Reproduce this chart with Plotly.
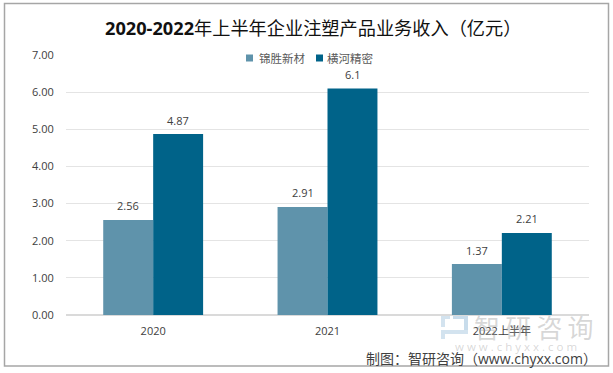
import plotly.graph_objects as go

categories = ["2020", "2021", "2022上半年"]
series_names = ["锦胜新材", "横河精密"]
jinsheng = [2.56, 2.91, 1.37]
hengtong = [4.87, 6.1, 2.21]
jinsheng_labels = ["2.56", "2.91", "1.37"]
hengtong_labels = ["4.87", "6.1", "2.21"]
tick_vals = [0, 1, 2, 3, 4, 5, 6, 7]
C1, C2 = "#5F93AB", "#006389"
W, H = 613, 373
L, R, T, B = 66, 589, 55, 315
SANS = "Noto Sans CJK SC"
LATIN = "Open Sans, Noto Sans CJK SC"


def px(x):
    return (x - L) / (R - L)


def py(y):
    return (B - y) / (B - T)


def note(text, x, y, size, color, xanchor="center", family=LATIN):
    return dict(text=text, x=px(x), y=py(y), xref="paper", yref="paper", showarrow=False,
                xanchor=xanchor, yanchor="middle", font=dict(size=size, color=color, family=family))


def box(x0, y0, x1, y1, color):
    return dict(type="rect", xref="paper", yref="paper", x0=px(x0), x1=px(x1), y0=py(y0), y1=py(y1),
                line=dict(width=0), fillcolor=color, layer="below")


fig = go.Figure()
fig.add_bar(name=series_names[0], x=categories, y=jinsheng, marker_color=C1, marker_line_width=0, showlegend=False)
fig.add_bar(name=series_names[1], x=categories, y=hengtong, marker_color=C2, marker_line_width=0, showlegend=False)

shapes = [
    dict(type="rect", xref="paper", yref="paper", x0=px(4.5), x1=px(608.5), y0=py(3.5), y1=py(366),
         line=dict(color="#A6A6A6", width=1.5), fillcolor="rgba(0,0,0,0)", layer="below"),
    box(246, 54.5, 253, 61.5, C1),
    box(316, 54.5, 323, 61.5, C2),
    box(441, 315, 450, 319, "#D3E3EF"),
    box(441, 319, 445, 327, "#D3E3EF"),
    box(453, 315, 468, 319, "#C8DCEB"),
    box(464, 319, 468, 330, "#C8DCEB"),
    box(441, 330, 468, 334, "#D3E3EF"),
    box(441, 334, 445, 339, "#D3E3EF"),
]
annotations = [
    note("<b>2020-2022</b>年上半年企业注塑产品业务收入（亿元）", 313, 28, 18.2, "#111111"),
    note("智\u2009研\u2009咨\u2009询", 534, 326, 26, "rgba(150,150,150,0.38)", family=SANS),
    note("w w w . c h y x x . c o m", 516, 346, 11.5, "rgba(150,150,150,0.38)"),
    note("制图：智研咨询（www.chyxx.com）", 599, 358, 14, "#404040", xanchor="right"),
    note(series_names[0], 257, 58, 11.5, "#595959", xanchor="left", family=SANS),
    note(series_names[1], 325, 58, 11.5, "#595959", xanchor="left", family=SANS),
]
for i, (value, label) in enumerate(zip(jinsheng, jinsheng_labels)):
    annotations.append(dict(x=i, y=value, text=label, showarrow=False, xshift=-25, yshift=14,
                            xanchor="center", yanchor="middle", font=dict(size=11, color="#404040", family=LATIN)))
for i, (value, label) in enumerate(zip(hengtong, hengtong_labels)):
    annotations.append(dict(x=i, y=value, text=label, showarrow=False, xshift=25, yshift=14,
                            xanchor="center", yanchor="middle", font=dict(size=11, color="#404040", family=LATIN)))

fig.update_layout(
    width=W, height=H, autosize=False, barmode="group", bargap=0.427, bargroupgap=0,
    margin=dict(l=L, r=W - R, t=T, b=H - B), paper_bgcolor="white", plot_bgcolor="white",
    font=dict(family=LATIN, color="#404040", size=11), shapes=shapes, annotations=annotations,
    showlegend=False,
    xaxis=dict(type="category", range=[-0.5, 2.5], showgrid=False, showline=False, ticks="outside", ticklen=6,
               tickcolor="rgba(0,0,0,0)", tickfont=dict(size=11, color="#404040")),
    yaxis=dict(range=[0, 7], tickvals=tick_vals, tickformat=".2f", gridcolor="#E4E4E4", gridwidth=1,
               zeroline=True, zerolinecolor="#DADADA", showline=False, ticks="outside", ticklen=9,
               tickcolor="rgba(0,0,0,0)", tickfont=dict(size=11, color="#404040")),
)
fig.write_html("out.html", config={"displayModeBar": False},
               post_script="document.body.style.margin='0';document.documentElement.style.overflow='hidden';")
